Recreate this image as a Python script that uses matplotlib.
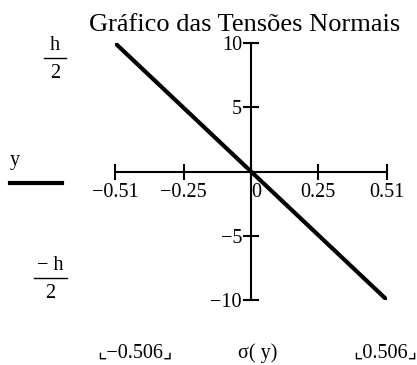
import matplotlib.pyplot as plt

# data: sigma(y) over the section height
y_vals = [10, -10]
sigma_vals = [-0.506, 0.506]

x_ticks = [-0.506, -0.25, 0, 0.25, 0.506]
x_tick_labels = ["\u22120.51", "\u22120.25", "0", "0.25", "0.51"]
y_ticks = [-10, -5, 5, 10]
y_tick_labels = ["\u221210", "\u22125", "5", "10"]
x_limits = (-0.506, 0.506)
y_limits = (-10, 10)

title = "Gráfico das Tensões Normais"
x_name = "σ( y)"
y_name = "y"

plt.rcParams["font.family"] = ["Liberation Serif", "DejaVu Sans"]

W, H = 417, 365
FS = 14.5
fig = plt.figure(figsize=(W / 100, H / 100), dpi=100)
ax = fig.add_axes([115 / W, (H - 300) / H, 272 / W, 257 / H])

ax.plot(sigma_vals, y_vals, color="black", linewidth=3.0, solid_capstyle="round")
ax.set_xlim(*x_limits)
ax.set_ylim(*y_limits)

for side in ["top", "right"]:
    ax.spines[side].set_visible(False)
for side in ["left", "bottom"]:
    ax.spines[side].set_position("zero")
    ax.spines[side].set_linewidth(1.5)

ax.set_xticks(x_ticks, labels=x_tick_labels)
ax.set_yticks(y_ticks, labels=y_tick_labels)
ax.tick_params(direction="inout", length=11, width=1.5, labelsize=FS)
ax.tick_params(axis="x", pad=3)
ax.tick_params(axis="y", pad=1)
for lab in ax.get_xticklabels():
    if lab.get_text() == "0":
        lab.set_ha("left")
ax.patch.set_visible(False)

# title and Mathcad-style side/bottom annotations
fig.text(245 / W, 1 - 25 / H, title, ha="center", va="center", fontsize=19)

def frac(xc, yc, top, width):
    fig.text(xc / W, 1 - (yc - 13) / H, top, ha="center", va="center", fontsize=FS)
    fig.add_artist(plt.Line2D([(xc - width / 2) / W, (xc + width / 2) / W],
                              [1 - yc / H, 1 - yc / H], color="black", linewidth=1.0))
    fig.text(xc / W, 1 - (yc + 15) / H, "2", ha="center", va="center", fontsize=FS)

frac(55, 58, "h", 22)
frac(50, 278, "\u2212 h", 33)

fig.text(15 / W, 1 - 160 / H, y_name, ha="center", va="center", fontsize=FS)
fig.add_artist(plt.Line2D([10 / W, 62 / W], [1 - 183 / H, 1 - 183 / H],
                          color="black", linewidth=3.0))

fig.text(135 / W, 1 - 353 / H, "\u231e\u22120.506\u231f", ha="center", va="center", fontsize=FS)
fig.text(258 / W, 1 - 353 / H, x_name, ha="center", va="center", fontsize=FS)
fig.text(385 / W, 1 - 353 / H, "\u231e0.506\u231f", ha="center", va="center", fontsize=FS)

fig.savefig("out.png", dpi=100)
